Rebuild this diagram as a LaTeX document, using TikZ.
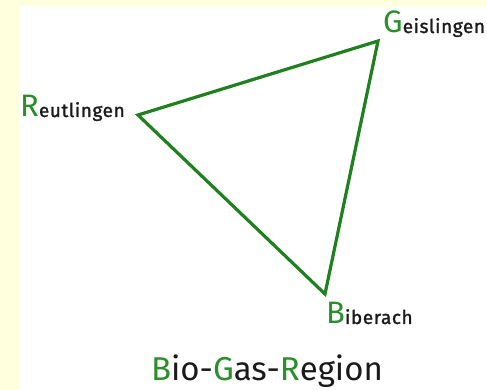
\documentclass[tikz,border=0pt]{standalone}
\usepackage{fontspec}
\setmainfont{Fira Sans}
\newfontfamily\smallfont{Fira Sans}[FakeBold=1.4,LetterSpace=3]
\definecolor{paper}{HTML}{FFFFDD}
\definecolor{leaf}{HTML}{2A8F2A}
\definecolor{edge}{HTML}{1F801F}
\definecolor{ink}{HTML}{1A1A1A}
\tikzset{
  town/.style={anchor=base west, inner sep=0pt, text=ink},
  route/.style={draw=edge, line width=3.2pt, line join=miter},
}
\newcommand{\initial}[1]{{\color{leaf}\fontsize{31}{31}\selectfont #1}}
\newcommand{\rest}[1]{{\smallfont\fontsize{19}{19}\selectfont #1}}
\begin{document}
\begin{tikzpicture}[x=1pt,y=1pt]
  % page and white panel
  \fill[paper] (0,0) rectangle (487,390);
  \fill[white] (19,0) rectangle (487,384);
  \useasboundingbox (0,0) rectangle (487,390);

  % corners of the region
  \coordinate (r) at (138,275);
  \coordinate (g) at (378,349);
  \coordinate (b) at (325,96);

  \draw[route] (r) -- (g) -- (b) -- cycle;

  % town names
  \node[town] (reut) at (20,273) {\initial{R}\rest{eutlingen}};
  \node[town] (geis) at (383,357) {\initial{G}\rest{eislingen}};
  \node[town] (bib)  at (326,66)  {\initial{B}\rest{iberach}};

  % title
  \node[anchor=base, inner sep=0pt, text=ink, font=\fontsize{33}{33}\selectfont] (title) at (267,9)
    {{\color{leaf}B}io-{\color{leaf}G}as-{\color{leaf}R}egion};
\end{tikzpicture}
\end{document}
